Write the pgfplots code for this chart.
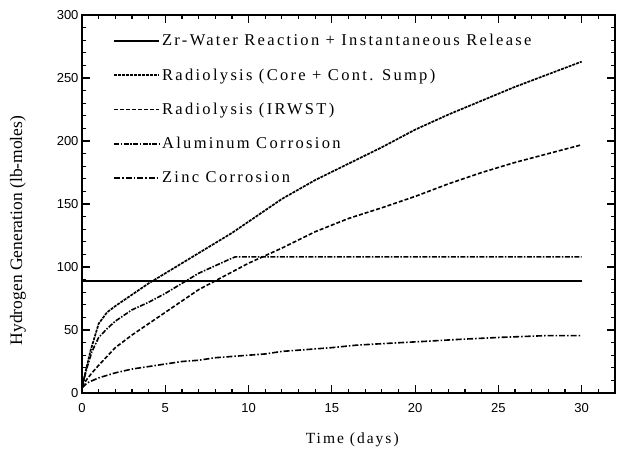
\documentclass[border=0pt]{standalone}
\usepackage{fontspec}
\setmainfont{Liberation Serif}
\newfontfamily\tickfont{Liberation Sans}
\newfontfamily\spacedserif[LetterSpace=13]{Liberation Serif}
\newfontfamily\legendserif[LetterSpace=14]{Liberation Serif}
\usepackage{pgfplots}
\pgfplotsset{compat=1.18}
\begin{document}
\begin{tikzpicture}
\begin{axis}[
  at={(0,0)}, anchor=south west,
  scale only axis, width=533bp, height=378bp,
  xmin=0, xmax=32, ymin=0, ymax=300,
  xtick={0,5,...,30}, minor xtick={0,1,...,32},
  ytick={0,50,...,300}, minor ytick={0,10,...,300},
  axis line style={line width=1.8bp},
  major tick length=8bp, minor tick length=4.5bp,
  every tick/.style={line width=1.2bp, black},
  /pgf/number format/assume math mode=true,
  tick label style={font=\tickfont\fontsize{13bp}{15bp}\selectfont},
  xticklabel style={yshift=-7bp},
  xlabel={Time (days)},
  ylabel={Hydrogen Generation (lb-moles)},
  xlabel style={font=\spacedserif\fontsize{15.5bp}{17bp}\selectfont, at={(axis description cs:0.507,-0.125)}, anchor=center},
  ylabel style={font=\fontsize{17.5bp}{19bp}\selectfont, at={(axis description cs:-0.12,0.43)}, anchor=center},
  legend style={at={(axis description cs:0.058,0.955)}, anchor=north west, draw=none, fill=none,
    font=\legendserif\fontsize{16.5bp}{18bp}\selectfont, row sep=17.5bp, inner sep=0pt},
  legend cell align=left,
  legend image code/.code={\draw[#1] (0bp,0bp) -- (45bp,0bp);},
]
\addplot[black, line width=2bp, solid] coordinates {(0,88.5) (30,88.5)};
\addlegendentry{Zr-Water Reaction + Instantaneous Release}
\addplot[black, line width=1.7bp, dash pattern=on 3bp off 1bp] coordinates {
(0,5) (0.2,16) (0.5,33) (1,55) (1.5,64) (2,69) (3,78) (4,87) (5,95) (6,103) (7,111)
(8,119) (9,127) (10,136) (12,154) (14,169) (16,182) (18,195) (20,209) (22,221)
(24,232) (26,243) (28,253) (30,263)};
\addlegendentry{Radiolysis (Core + Cont. Sump)}
\addplot[black, line width=1.6bp, dash pattern=on 4bp off 2bp] coordinates {
(0,5) (0.3,11) (0.6,16) (1,22) (1.5,29) (2,36) (3,46) (4,55) (5,64) (6,73) (7,82)
(8,89) (9,96) (10,103) (11,109) (12,115) (14,128) (16,138.5) (18,147) (20,156)
(22,166) (24,175) (26,183) (28,190) (30,197)};
\addlegendentry{Radiolysis (IRWST)}
\addplot[black, line width=1.6bp, dash pattern=on 5bp off 1.5bp on 1.5bp off 1.5bp] coordinates {
(0,5) (0.3,20) (0.6,33) (1,44) (1.5,51) (2,57) (3,66) (4,72) (5,79) (6,87) (7,95)
(8,101) (9,107) (9.2,108) (30,108)};
\addlegendentry{Aluminum Corrosion}
\addplot[black, line width=1.6bp, dash pattern=on 6bp off 2bp on 1.5bp off 2bp] coordinates {
(0,4) (0.3,8) (1,12) (2,16) (3,19) (4,21) (5,23) (6,25) (7,26) (8,28) (9,29) (10,30)
(11,31) (12,33) (13,34) (15,36) (16.5,38) (18.5,39.5) (20.6,41) (22.7,42.6) (25.2,44.2)
(27.8,45.5) (30,45.5)};
\addlegendentry{Zinc Corrosion}
\end{axis}
\pgfresetboundingbox
\path (-82bp,-61bp) rectangle (539bp,393bp);
\end{tikzpicture}
\end{document}
